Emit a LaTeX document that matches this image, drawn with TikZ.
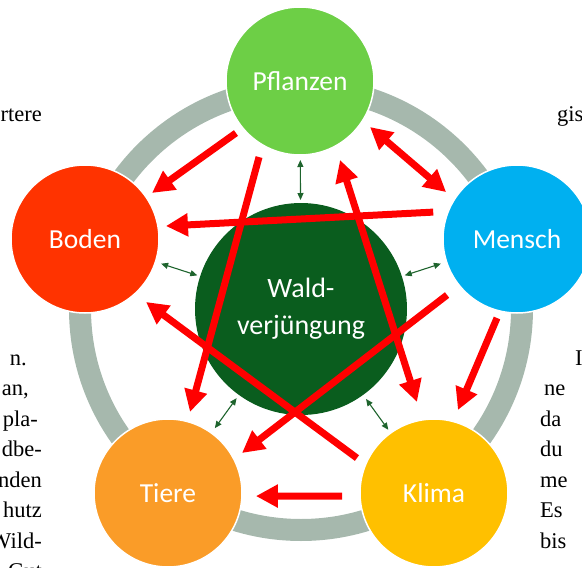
\documentclass[tikz,border=0pt]{standalone}
\usepackage{fontspec}
\setmainfont{Liberation Serif}
\newfontfamily\lblfont{Carlito}
\usetikzlibrary{arrows.meta,calc}
\definecolor{ringgray}{RGB}{166,184,173}
\definecolor{pflgreen}{RGB}{109,207,70}
\definecolor{bodred}{RGB}{255,51,0}
\definecolor{menblue}{RGB}{0,176,240}
\definecolor{tierorange}{RGB}{250,156,40}
\definecolor{klimagold}{RGB}{255,192,0}
\definecolor{darkforest}{RGB}{10,93,30}
\definecolor{arrowred}{RGB}{255,0,0}
\definecolor{smallgreen}{RGB}{30,100,45}
\begin{document}
\begin{tikzpicture}[x=1pt,y=-1pt,
  outer/.style={circle, minimum size=148pt, inner sep=0pt, draw=white, line width=1.5pt, text=white, font=\lblfont\fontsize{27.5}{33}\selectfont},
  core/.style={circle, minimum size=212pt, inner sep=0pt, fill=darkforest, text=white, align=center, font=\lblfont\fontsize{28}{37}\selectfont},
  redarrow/.style={draw=arrowred, line width=7pt, -{Triangle[length=22pt,width=22pt]}},
  redboth/.style={draw=arrowred, line width=7pt, {Triangle[length=22pt,width=22pt]}-{Triangle[length=22pt,width=22pt]}},
  greenarrow/.style={draw=smallgreen, line width=1.1pt, {Triangle[length=7pt,width=6pt]}-{Triangle[length=7pt,width=6pt]}},
  pagetext/.style={inner sep=0pt, font=\fontsize{22.5}{26}\selectfont},
]
\useasboundingbox (0,0) rectangle (582,568);
\coordinate (ctr) at (301,309);
\draw[draw=ringgray, line width=22pt] (ctr) circle[radius=221pt];
\node[outer, fill=pflgreen] (P) at (300,81) {Pflanzen};
\node[outer, fill=bodred] (B) at (85,239) {Boden};
\node[outer, fill=menblue] (M) at (517,239) {Mensch};
\node[outer, fill=tierorange] (T) at (168,493) {Tiere};
\node[outer, fill=klimagold] (K) at (434,493) {Klima};
\node[core] (C) at (ctr) {Wald-\\verjüngung};
\foreach \n/\a/\b in {P/109/79, B/109/80, M/109/80, T/110/80, K/111/78}
  \draw[greenarrow] ($(C.center)!\a pt!(\n.center)$) -- ($(\n.center)!\b pt!(C.center)$);
\draw[redarrow] ($(P.center)+(140.9:82.5)$) -- ($(B.center)+(-34.5:81.3)$);
\draw[redboth] ($(P.center)+(33.3:83.8)$) -- ($(M.center)+(-146.5:85)$);
\draw[redarrow] ($(M.center)+(-162.2:88)$) -- ($(B.center)+(-9.1:82)$);
\draw[redarrow] ($(P.center)+(118.3:86.4)$) -- ($(T.center)+(-74.8:84)$);
\draw[redboth] ($(K.center)+(-100.6:92.6)$) -- ($(P.center)+(63.1:88.5)$);
\draw[redarrow] ($(M.center)+(141.3:89.6)$) -- ($(T.center)+(-28.4:84.1)$);
\draw[redarrow] ($(K.center)+(-155.6:84.6)$) -- ($(B.center)+(45.9:87.7)$);
\draw[redarrow] ($(M.center)+(104.2:81.5)$) -- ($(K.center)+(-73.9:86.4)$);
\draw[redarrow] ($(K.center)+(178.1:92)$) -- ($(T.center)+(2:88)$);
% page text fragments
\node[pagetext, anchor=base east] (l0) at (42,121) {rtere};
\node[pagetext, anchor=base east] (l1) at (27,365) {n.};
\node[pagetext, anchor=base east] (l2) at (29,395.5) {an,};
\node[pagetext, anchor=base east] (l3) at (38,426) {pla-};
\node[pagetext, anchor=base east] (l4) at (42,456.5) {dbe-};
\node[pagetext, anchor=base east] (l5) at (42,487) {nden};
\node[pagetext, anchor=base east] (l6) at (42,517.5) {hutz};
\node[pagetext, anchor=base east] (l7) at (42,548) {Wild-};
\node[pagetext, anchor=base east] (l8) at (42,578.5) {Gut};
\node[pagetext, anchor=base west] (r0) at (557,121) {gis};
\node[pagetext, anchor=base west] (r1) at (575,365) {I};
\node[pagetext, anchor=base west] (r2) at (544,395.5) {ne};
\node[pagetext, anchor=base west] (r3) at (540,426) {da};
\node[pagetext, anchor=base west] (r4) at (540,456.5) {du};
\node[pagetext, anchor=base west] (r5) at (540,487) {me};
\node[pagetext, anchor=base west] (r6) at (540,517.5) {Es};
\node[pagetext, anchor=base west] (r7) at (540,548) {bis};
\end{tikzpicture}
\end{document}
